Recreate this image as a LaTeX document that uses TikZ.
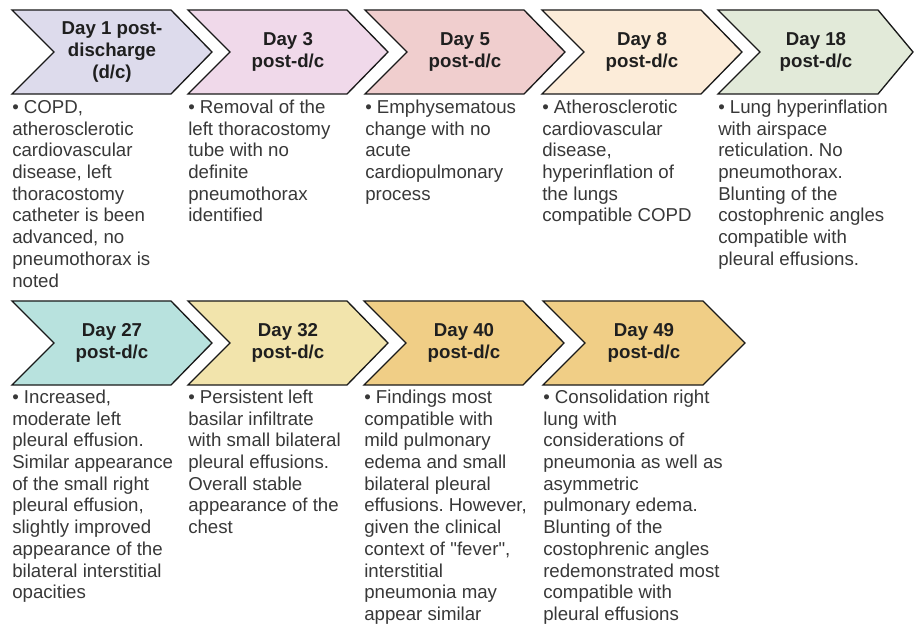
\documentclass[tikz,border=0pt]{standalone}
\usepackage{fontspec}
\setmainfont{Liberation Sans}[Ligatures=TeXOff]

\definecolor{cday1}{HTML}{DDDBEC}
\definecolor{cday3}{HTML}{F0D9EA}
\definecolor{cday5}{HTML}{F0CECE}
\definecolor{cday8}{HTML}{FCECD9}
\definecolor{cday18}{HTML}{E2EAD9}
\definecolor{cday27}{HTML}{B8E2DE}
\definecolor{cday32}{HTML}{F2E4AC}
\definecolor{cday40}{HTML}{F0CE86}

\tikzset{
    chev/.style={draw=black!90, line width=1pt, line join=miter},
    head/.style={font=\fontsize{14}{16.3}\selectfont\bfseries, align=center, text=black!88, inner sep=0pt},
    note/.style={font=\fontsize{14}{16.3}\selectfont\frenchspacing, align=left, anchor=north west, inner sep=0pt, text=black!78}
}

\begin{document}
\begin{tikzpicture}[x=0.75pt,y=0.75pt]
    \useasboundingbox (0,0) rectangle (915,626);

    % upper row
    \draw[chev,fill=cday1] (12,616) -- (171,616) -- (212,574) -- (171,532) -- (12,532) -- (54,574) -- cycle;
    \node[head] (d1) at (112,574) {Day 1 post-\\discharge\\(d/c)};
    \draw[chev,fill=cday3] (188,616) -- (347,616) -- (388,574) -- (347,532) -- (188,532) -- (230,574) -- cycle;
    \node[head] (d3) at (288,574) {Day 3\\post-d/c};
    \draw[chev,fill=cday5] (365,616) -- (524,616) -- (565,574) -- (524,532) -- (365,532) -- (407,574) -- cycle;
    \node[head] (d5) at (465,574) {Day 5\\post-d/c};
    \draw[chev,fill=cday8] (542,616) -- (701,616) -- (742,574) -- (701,532) -- (542,532) -- (584,574) -- cycle;
    \node[head] (d8) at (642,574) {Day 8\\post-d/c};
    \draw[chev,fill=cday18] (718,616) -- (878,616) -- (913,574) -- (878,532) -- (718,532) -- (760,574) -- cycle;
    \node[head] (d18) at (816,574) {Day 18\\post-d/c};

    \node[note] (n1) at (12,528.2) {\strut• COPD,\\atherosclerotic\\cardiovascular\\disease, left\\thoracostomy\\catheter is been\\advanced, no\\pneumothorax is\\noted};
    \node[note] (n3) at (188,528.2) {\strut• Removal of the\\left thoracostomy\\tube with no\\definite\\pneumothorax\\identified};
    \node[note] (n5) at (365,528.2) {\strut• Emphysematous\\change with no\\acute\\cardiopulmonary\\process};
    \node[note] (n8) at (542,528.2) {\strut• Atherosclerotic\\cardiovascular\\disease,\\hyperinflation of\\the lungs\\compatible COPD};
    \node[note] (n18) at (718,528.2) {\strut• Lung hyperinflation\\with airspace\\reticulation. No\\pneumothorax.\\Blunting of the\\costophrenic angles\\compatible with\\pleural effusions.};

    % lower row
    \draw[chev,fill=cday27] (12,325) -- (171,325) -- (212,283) -- (171,241) -- (12,241) -- (54,283) -- cycle;
    \node[head] (d27) at (112,283) {Day 27\\post-d/c};
    \draw[chev,fill=cday32] (188,325) -- (347,325) -- (388,283) -- (347,241) -- (188,241) -- (230,283) -- cycle;
    \node[head] (d32) at (288,283) {Day 32\\post-d/c};
    \draw[chev,fill=cday40] (364,325) -- (523,325) -- (564,283) -- (523,241) -- (364,241) -- (406,283) -- cycle;
    \node[head] (d40) at (464,283) {Day 40\\post-d/c};
    \draw[chev,fill=cday40] (543,325) -- (703,325) -- (745,283) -- (703,241) -- (543,241) -- (585,283) -- cycle;
    \node[head] (d49) at (644,283) {Day 49\\post-d/c};

    \node[note] (n27) at (12,238.2) {\strut• Increased,\\moderate left\\pleural effusion.\\Similar appearance\\of the small right\\pleural effusion,\\slightly improved\\appearance of the\\bilateral interstitial\\opacities};
    \node[note] (n32) at (188,238.2) {\strut• Persistent left\\basilar infiltrate\\with small bilateral\\pleural effusions.\\Overall stable\\appearance of the\\chest};
    \node[note] (n40) at (364,238.2) {\strut• Findings most\\compatible with\\mild pulmonary\\edema and small\\bilateral pleural\\effusions. However,\\given the clinical\\context of "fever",\\interstitial\\pneumonia may\\appear similar};
    \node[note] (n49) at (543,238.2) {\strut• Consolidation right\\lung with\\considerations of\\pneumonia as well as\\asymmetric\\pulmonary edema.\\Blunting of the\\costophrenic angles\\redemonstrated most\\compatible with\\pleural effusions};

\end{tikzpicture}
\end{document}
